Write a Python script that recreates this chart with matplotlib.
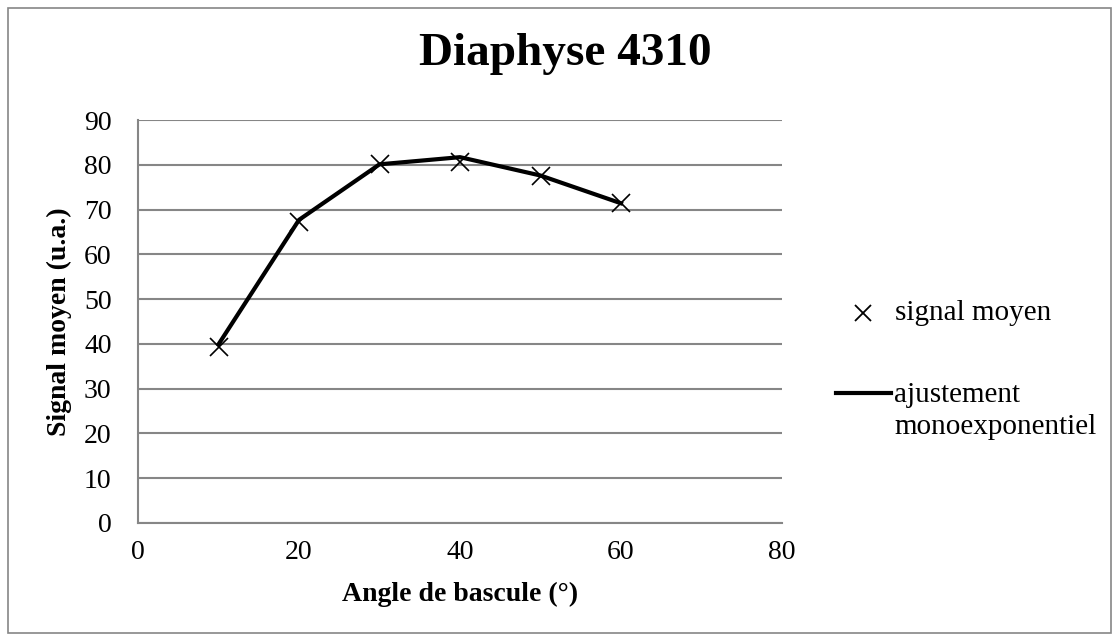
import matplotlib.pyplot as plt
from matplotlib.lines import Line2D
from matplotlib.patches import Rectangle

plt.rcParams["font.family"] = ["Liberation Serif", "DejaVu Serif"]

angles = [10, 20, 30, 40, 50, 60]
signal_moyen = [39.3, 67.3, 80.1, 80.7, 77.6, 71.4]
ajustement = [39.9, 67.7, 80.1, 81.7, 77.6, 71.4]
x_ticks = [0, 20, 40, 60, 80]
y_ticks = list(range(0, 91, 10))

grid_col = "#868686"
W, H = 1119, 641

fig = plt.figure(figsize=(W / 100, H / 100), dpi=100)
fig.patches.append(Rectangle((8 / W, 8 / H), 1 - 16 / W, 1 - 16 / H, transform=fig.transFigure,
                             fill=False, edgecolor=grid_col, linewidth=1.2))

# plot area in pixels: x 138..782, y 120..523
ax = fig.add_axes([138 / W, 1 - 523 / H, 644 / W, 403 / H])
ax.plot(angles, ajustement, color="black", linewidth=3, zorder=3)
ax.plot(angles, signal_moyen, linestyle="none", marker="x", markersize=13,
        markeredgewidth=1.2, color="black", zorder=4)

ax.set_xlim(0, 80)
ax.set_ylim(0, 90)
ax.set_xticks(x_ticks)
ax.set_yticks(y_ticks)
ax.tick_params(length=0, labelsize=20)
ax.tick_params(axis="y", pad=19)
ax.tick_params(axis="x", pad=12)
ax.yaxis.grid(True, color=grid_col, linewidth=1.5)
ax.set_axisbelow(True)
for side in ("top", "right"):
    ax.spines[side].set_visible(False)
for side in ("left", "bottom"):
    ax.spines[side].set_color(grid_col)
    ax.spines[side].set_linewidth(1.5)

ax.set_xlabel("Angle de bascule (°)", fontsize=20, fontweight="bold")
ax.set_ylabel("Signal moyen (u.a.)", fontsize=20, fontweight="bold")
ax.xaxis.set_label_coords(0.5, -0.147)
ax.yaxis.set_label_coords(-0.1025, 0.5)
fig.text(565 / W, 1 - 65 / H, "Diaphyse 4310", ha="center", va="baseline",
         fontsize=34, fontweight="bold")

# legend drawn by hand in figure coordinates
fig.lines.append(Line2D([863 / W], [1 - 313 / H], marker="x", markersize=12,
                        markeredgewidth=1.3, color="black", transform=fig.transFigure))
fig.text(895 / W, 1 - 313 / H, "signal moyen", fontsize=21, va="center")
fig.lines.append(Line2D([836 / W, 891 / W], [1 - 393 / H, 1 - 393 / H], color="black",
                        linewidth=3, transform=fig.transFigure))
fig.text(894 / W, 1 - 395 / H, "ajustement", fontsize=21, va="center")
fig.text(894 / W, 1 - 427 / H, "monoexponentiel", fontsize=21, va="center")

fig.savefig("out.png", dpi=100)
